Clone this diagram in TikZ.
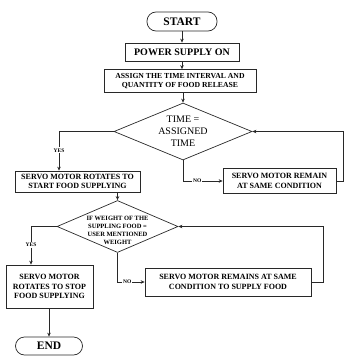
\documentclass[tikz,border=0pt]{standalone}
\usepackage{fontspec}
\setmainfont{Liberation Serif}
\usepackage{tikz}
\usetikzlibrary{positioning,arrows.meta,shapes.geometric}
\definecolor{fLine}{RGB}{40,40,40}
\tikzset{
  term/.style={rectangle, rounded corners=9pt, draw=fLine, line width=0.7pt,
               minimum height=19pt, minimum width=70pt, align=center,
               font=\fontsize{11.5}{13}\selectfont\bfseries},
  proc/.style={rectangle, draw=fLine, line width=0.7pt, align=center,
               inner sep=1pt, font=\fontsize{8}{9.5}\selectfont\bfseries},
  decision/.style={diamond, aspect=2.4, draw=fLine, line width=0.7pt,
                   align=center, inner sep=-6pt},
  flow/.style={-{Stealth[length=4pt,width=3.5pt]}, draw=fLine, line width=0.7pt},
  lbl/.style={font=\fontsize{5.5}{6}\selectfont\bfseries, fill=white, inner sep=1pt},
}
\begin{document}
\begin{tikzpicture}[x=1pt,y=-1pt]
  \useasboundingbox (0,0) rectangle (343,356);
  \node[term] (start) at (182,21.5) {START};
  \node[proc, minimum width=114pt, minimum height=18pt,
        font=\fontsize{10}{12}\selectfont\bfseries] (power) at (182,52) {POWER SUPPLY ON};
  \node[proc, minimum width=152pt, minimum height=23pt,
        font=\fontsize{7.7}{9}\selectfont\bfseries] (assign) at (180,81)
        {ASSIGN THE TIME INTERVAL AND\\QUANTITY OF FOOD RELEASE};
  \node[decision, minimum width=138pt, minimum height=57pt,
        font=\fontsize{10}{12}\selectfont] (time) at (183,131.5) {TIME =\\ASSIGNED\\TIME};
  \node[proc, minimum width=125pt, minimum height=21pt] (srot) at (77.5,181.5)
        {SERVO MOTOR ROTATES TO\\START FOOD SUPPLYING};
  \node[proc, minimum width=113pt, minimum height=25pt] (srem) at (279.5,181)
        {SERVO MOTOR REMAIN\\AT SAME CONDITION};
  \node[decision, minimum width=121pt, minimum height=52pt,
        font=\fontsize{6.5}{8.2}\selectfont\bfseries] (weight) at (117.5,226.5)
        {\rule{0pt}{12pt}IF WEIGHT OF THE\\SUPPLING FOOD =\\USER MENTIONED\\WEIGHT};
  \node[proc, minimum width=87pt, minimum height=43pt] (sstop) at (49.5,286.5)
        {SERVO MOTOR\\ROTATES TO STOP\\FOOD SUPPLYING};
  \node[proc, minimum width=166pt, minimum height=28pt] (srem2) at (228,282)
        {SERVO MOTOR REMAINS AT SAME\\CONDITION TO SUPPLY FOOD};
  \node[term, minimum width=67pt, minimum height=18pt] (end) at (49,346) {END};

  \draw[flow] (start) -- (power);
  \draw[flow] (power) -- (power |- assign.north);
  \draw[flow] (time.north |- assign.south) -- (time.north);
  \draw[flow] (time.west) -| node[lbl, pos=0.74] {YES} ([xshift=-18.5pt]srot.north);
  \draw[flow] (time.south) |- node[lbl, pos=0.68] {NO} (srem.west);
  \draw[flow] (srem.east) -- ++(6.5,0) |- (time.east);
  \draw[flow] (srot.south -| weight.north) -- (weight.north);
  \draw[flow] (weight.west) -| node[lbl, pos=0.74] {YES} ([xshift=-18.5pt]sstop.north);
  \draw[flow] (weight.south) |- node[lbl, pos=0.68] {NO} (srem2.west);
  \draw[flow] (srem2.east) -- ++(12,0) |- (weight.east);
  \draw[flow] (sstop.south -| end.north) -- (end.north);
\end{tikzpicture}
\end{document}
